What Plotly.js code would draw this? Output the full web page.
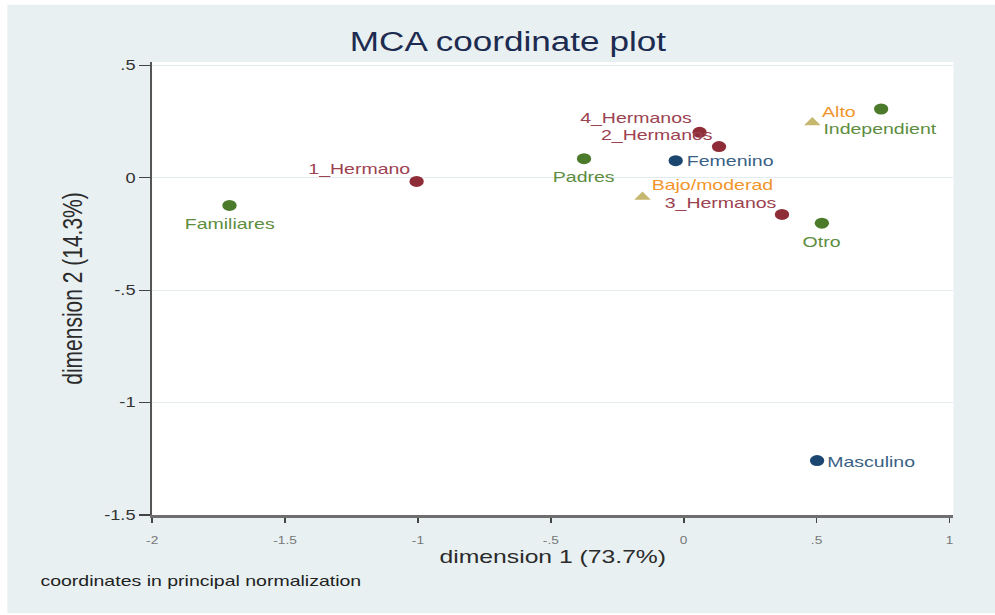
<!DOCTYPE html>
<html>
<head>
<meta charset="utf-8">
<script src="https://cdn.plot.ly/plotly-3.0.1.min.js"></script>
<style>
  html, body { margin: 0; padding: 0; background: #ffffff; overflow: hidden; }
  #chart { width: 765px; height: 615px; transform: scaleX(1.3007); transform-origin: 0 0; }
</style>
</head>
<body>
<div id="chart"></div>
<script>
// ---- data ----
const categories = ['1_Hermano', '2_Hermanos', '3_Hermanos', '4_Hermanos',
                    'Padres', 'Familiares', 'Independient', 'Otro',
                    'Femenino', 'Masculino',
                    'Bajo/moderad', 'Alto'];
const dim1 = [-1.005, 0.133, 0.370, 0.060, -0.375, -1.709, 0.743, 0.520, -0.030, 0.502, -0.155, 0.484];
const dim2 = [-0.016, 0.139, -0.163, 0.202, 0.085, -0.123, 0.306, -0.202, 0.076, -1.258, -0.086, 0.246];
const groups = ['hermanos', 'hermanos', 'hermanos', 'hermanos',
                'vive', 'vive', 'vive', 'vive',
                'sexo', 'sexo',
                'nivel', 'nivel'];
const xTickVals = [-2, -1.5, -1, -0.5, 0, 0.5, 1];
const xTickText = ['-2', '-1.5', '-1', '-.5', '0', '.5', '1'];
const yTickVals = [0.5, 0, -0.5, -1, -1.5];
const yTickText = ['.5', '0', '-.5', '-1', '-1.5'];

// ---- styles ----
const SX = 1.3007; // horizontal stretch applied to the whole page
const groupStyle = {
  hermanos: { marker: '#8e2d38', label: '#9c4250', symbol: 'circle' },
  vive:     { marker: '#4b7a2b', label: '#5d8d3e', symbol: 'circle' },
  sexo:     { marker: '#1b4670', label: '#3a5f85', symbol: 'circle' },
  nivel:    { marker: '#c6b76e', label: '#f0952c', symbol: 'triangle-up' }
};
// label placement: [anchor, dx (screen px), dy (screen px, down positive)]
const labelPlace = {
  '1_Hermano': ['right', -6.5, -12.7], '2_Hermanos': ['right', -6, -12.5],
  '3_Hermanos': ['right', -5.5, -12.3], '4_Hermanos': ['right', -7, -14.5],
  'Padres': ['center', 0, 18.3], 'Familiares': ['center', 0, 18.3],
  'Independient': ['center', -1, 19.5], 'Otro': ['center', -1, 18.4],
  'Femenino': ['left', 10.7, 0], 'Masculino': ['left', 10, 1],
  'Bajo/moderad': ['left', 9, -12.5], 'Alto': ['left', 10, -11]
};
const FONT = 'Liberation Sans, Arial, sans-serif';

const traces = Object.keys(groupStyle).map(g => {
  const idx = categories.map((c, i) => i).filter(i => groups[i] === g);
  const st = groupStyle[g];
  return {
    type: 'scatter', mode: 'markers', name: g,
    x: idx.map(i => dim1[i]),
    y: idx.map(i => dim2[i]),
    text: idx.map(i => categories[i]),
    marker: { symbol: st.symbol, size: 11, color: st.marker },
    cliponaxis: false, hoverinfo: 'text'
  };
});

const labelAnnotations = categories.map((c, i) => {
  const p = labelPlace[c];
  return {
    text: c, x: dim1[i], y: dim2[i], xref: 'x', yref: 'y', showarrow: false,
    xanchor: p[0], yanchor: 'middle', xshift: p[1] / SX, yshift: -p[2],
    borderpad: 0, borderwidth: 0,
    font: { family: FONT, size: 15, color: groupStyle[groups[i]].label }
  };
});

const L = 116.9, R = 31.5, T = 62.3, B = 100, W = 765, H = 615;
const pw = W - L - R, ph = H - T - B;

const layout = {
  width: W, height: H,
  margin: { l: L, r: R, t: T, b: B, pad: 0 },
  paper_bgcolor: '#ffffff', plot_bgcolor: '#ffffff',
  showlegend: false,
  title: {
    text: 'MCA coordinate plot',
    font: { family: FONT, size: 27, color: '#1c2b4f' },
    x: 390.5 / W, xref: 'container', xanchor: 'center',
    y: 1 - 42 / H, yref: 'container', yanchor: 'middle'
  },
  xaxis: {
    range: [-2, 1.015], tickvals: xTickVals, ticktext: xTickText,
    ticks: 'outside', ticklen: 5, tickwidth: 1.3, tickcolor: '#444',
    tickfont: { family: FONT, size: 10.5, color: '#777' },
    ticklabelstandoff: 8,
    showline: true, linecolor: '#6e6e6e', linewidth: 3,
    showgrid: false, zeroline: false,
    title: { text: 'dimension 1 (73.7%)', font: { family: FONT, size: 19, color: '#2b2b2b' }, standoff: 4 }
  },
  yaxis: {
    range: [-1.5, 0.515], tickvals: yTickVals, ticktext: yTickText,
    ticks: 'outside', ticklen: 8, tickwidth: 1.3, tickcolor: '#444',
    tickfont: { family: FONT, size: 14, color: '#333' },
    showline: true, linecolor: '#555', linewidth: 2,
    showgrid: true, gridcolor: '#e3edf0', gridwidth: 1, zeroline: false,
    title: { text: 'dimension 2 (14.3%)', font: { family: FONT, size: 21, color: '#2b2b2b' }, standoff: 11 }
  },
  shapes: [
    { type: 'rect', layer: 'below', xref: 'paper', yref: 'paper',
      x0: (5.4 - L) / pw, x1: (W + 5 - L) / pw,
      y0: (H - B - 613) / ph, y1: (H - B - 5) / ph,
      fillcolor: '#e8f0f2', line: { width: 0 } },
    { type: 'rect', layer: 'below', xref: 'paper', yref: 'paper',
      x0: 0, x1: 1, y0: 0, y1: 1,
      fillcolor: '#ffffff', line: { width: 0 } }
  ],
  annotations: labelAnnotations.concat([
    { text: 'coordinates in principal normalization', showarrow: false,
      xref: 'paper', yref: 'paper', xanchor: 'left', yanchor: 'middle',
      x: (28.5 - L) / pw, y: (H - B - 580) / ph,
      font: { family: FONT, size: 15, color: '#222' } }
  ])
};

Plotly.newPlot('chart', traces, layout, { displayModeBar: false, staticPlot: true });
</script>
</body>
</html>
